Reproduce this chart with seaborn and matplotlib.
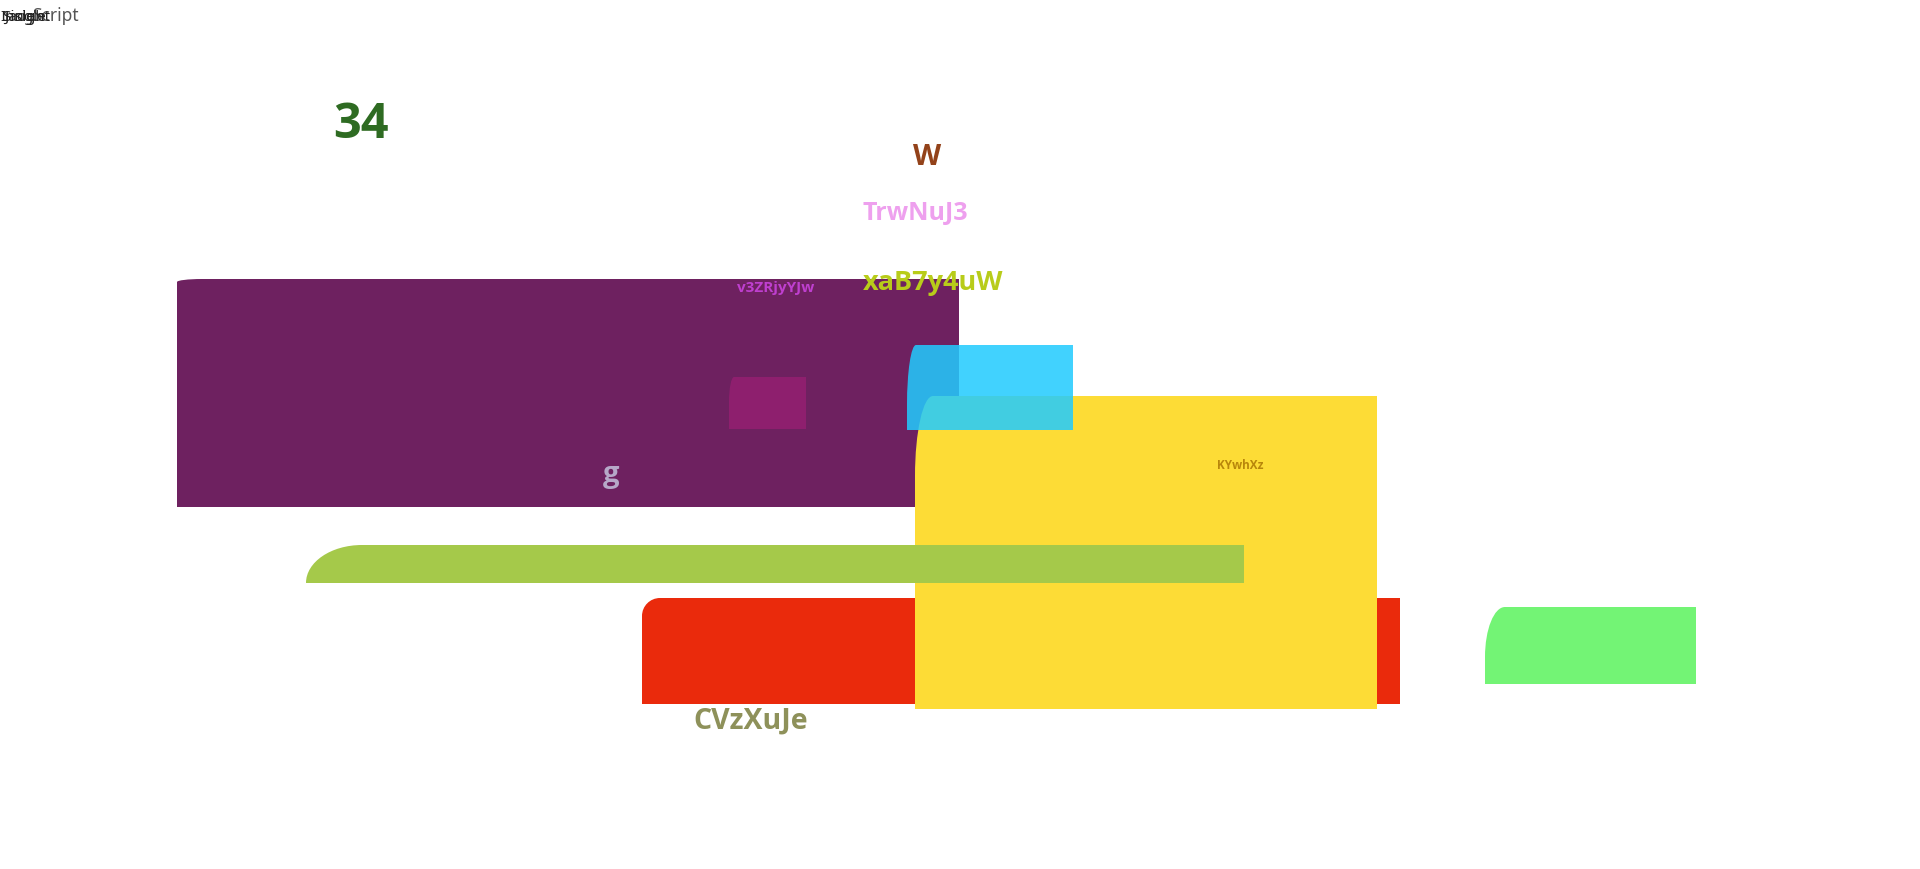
#!/usr/bin/env python3
"""Rebuild the block-and-label chart with seaborn styling."""

import matplotlib
matplotlib.use("Agg")
import matplotlib.pyplot as plt
from matplotlib import font_manager
from matplotlib.path import Path
from matplotlib.patches import PathPatch
import seaborn as sns

# Blocks (canvas units, y grows downward)
box_left = [177, 729, 642, 915, 907, 306, 1485]
box_right = [959, 806, 1400, 1377, 1073, 1244, 1696]
box_top = [280, 378, 599, 397, 346, 546, 608]
box_bottom = [508, 430, 705, 710, 431, 584, 685]

# Labels
label_text = ["34", "W", "TrwNuJ3", "v3ZRjyYJw", "xaB7y4uW", "g", "KYwhXz", "CVzXuJe"]
label_x = [361, 927, 915, 776, 933, 611, 1240, 751]
label_y = [138, 165, 220, 292, 290, 482, 469, 729]

# Header words stacked in the corner
header_words = ["Insight", "Single", "Jade"]

# styles
box_colors = ["#6E2160", "#8E1F6E", "#EA2A0C", "#FDDC36", "#22CBFE", "#A5C94A", "#73F475"]
box_alpha = [1, 1, 1, 1, 0.86, 1, 1]
corner_rx = [25, 5, 18, 18, 9, 56, 20]
corner_ry = [3, 25, 18, 80, 60, 38, 50]
label_colors = ["#2E6B22", "#93421A", "#EEA0EE", "#BF3FCF", "#B8CC1A", "#B6A8C8", "#B8860B", "#8E915A"]
label_sizes = [35, 21, 18, 11, 19.5, 21, 8.5, 20.5]


def pick_bold_family(preferred):
    """First family from the list that actually ships a bold face."""
    for fam in preferred:
        for f in font_manager.fontManager.ttflist:
            w = f.weight if isinstance(f.weight, int) else 700 if 'bold' in str(f.weight) else 400
            if f.name == fam and w >= 600:
                return fam
    return 'DejaVu Sans'


def corner_box(x0, x1, y0, y1, rx, ry):
    """Rectangle with only its top-left corner rounded (elliptical)."""
    k = 0.5523
    verts = [
        (x0, y1),
        (x0, y0 + ry),
        (x0, y0 + ry - k * ry), (x0 + rx - k * rx, y0), (x0 + rx, y0),
        (x1, y0),
        (x1, y1),
        (x0, y1),
    ]
    codes = [Path.MOVETO, Path.LINETO,
             Path.CURVE4, Path.CURVE4, Path.CURVE4,
             Path.LINETO, Path.LINETO, Path.CLOSEPOLY]
    return Path(verts, codes)


def main():
    sns.set_theme(style="white")
    plt.rcParams['font.family'] = ['Noto Sans', 'DejaVu Sans']
    bold_family = pick_bold_family(['Open Sans', 'Noto Sans', 'Lato', 'Roboto'])

    fig = plt.figure(figsize=(19.2, 8.7), dpi=100)
    ax = fig.add_axes([0, 0, 1, 1])
    ax.set_xlim(0, 1920)
    ax.set_ylim(870, 0)
    ax.axis('off')

    for i in range(len(box_left)):
        path = corner_box(box_left[i], box_right[i], box_top[i], box_bottom[i],
                          corner_rx[i], corner_ry[i])
        ax.add_patch(PathPatch(path, facecolor=box_colors[i], edgecolor='none',
                               alpha=box_alpha[i], zorder=i + 1))

    for txt, x, y, c, s in zip(label_text, label_x, label_y, label_colors, label_sizes):
        ax.text(x, y, txt, color=c, fontsize=s, fontweight='bold',
                family=[bold_family, 'DejaVu Sans'],
                ha='center', va='baseline', zorder=20)

    # overlapping header text in the corner (overlap is as in the source)
    ax.text(32, 21, "Script", color="#555555", fontsize=12.5, ha='left', va='baseline', zorder=20)
    for j, w in enumerate(header_words):
        ax.text(0 + j * 2, 21, w, color="#222222", fontsize=11, ha='left',
                va='baseline', zorder=21)

    fig.savefig("out.png", dpi=100)
    plt.close(fig)


if __name__ == "__main__":
    main()
